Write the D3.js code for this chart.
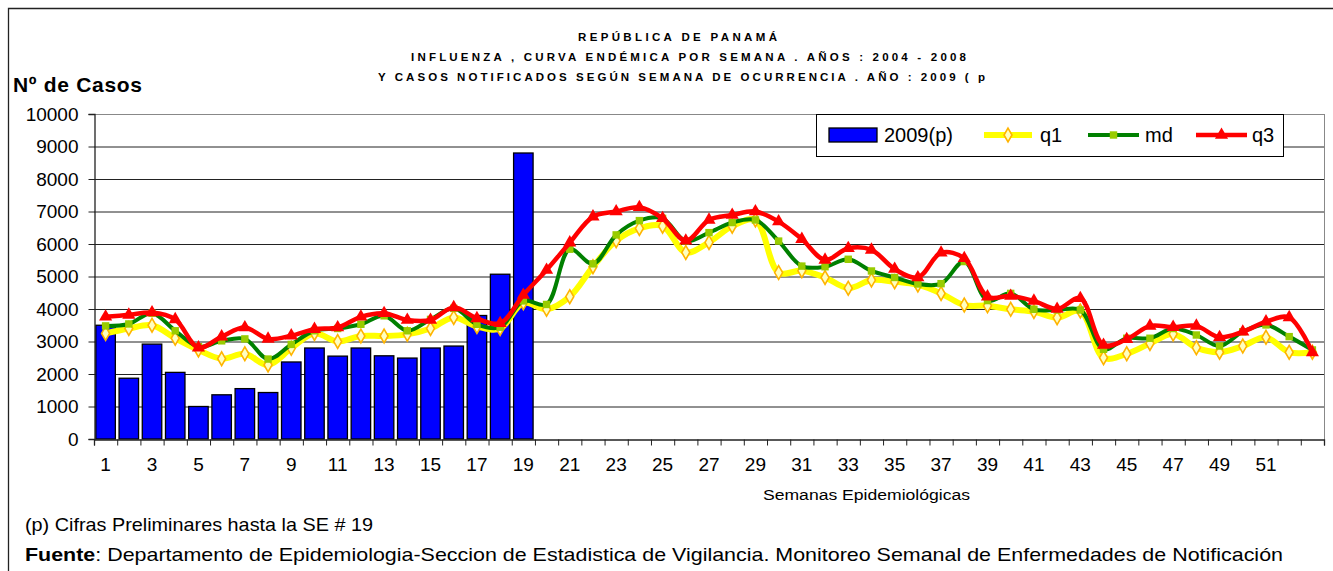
<!DOCTYPE html>
<html>
<head>
<meta charset="utf-8">
<script src="https://cdn.jsdelivr.net/npm/d3@7"></script>
<style>
body { margin:0; background:#fff; }
svg { display:block; font-family:"Liberation Sans", Arial, sans-serif; }
</style>
</head>
<body>
<svg id="chart" width="1333" height="571"></svg>
<script>
var WEEKS = d3.range(1, 54); // 53 semanas
var CASOS_2009 = [3500,1870,2920,2050,1000,1360,1550,1430,2370,2800,2550,2800,2560,2490,2800,2860,3800,5070,8800];
var Q1 = [3250,3400,3500,3100,2740,2470,2620,2280,2790,3250,
          3000,3170,3170,3220,3400,3740,3460,3400,4190,3990,
          4380,5300,6100,6480,6550,5740,6050,6550,6740,5120,
          5180,4970,4640,4890,4840,4740,4480,4120,4100,3990,
          3920,3730,3940,2500,2620,2940,3230,2810,2670,2860,
          3130,2670,2670];
var MD = [3480,3540,3870,3330,2840,3020,3080,2460,2910,3330,
          3400,3530,3790,3330,3680,4020,3530,3440,4250,4140,
          5840,5390,6280,6720,6790,6090,6350,6660,6740,6090,
          5320,5300,5530,5170,4970,4770,4780,5460,4260,4480,
          3990,3970,3970,2760,3100,3100,3400,3200,2860,3300,
          3510,3150,2740];
var Q3 = [3760,3820,3890,3680,2810,3150,3430,3080,3180,3380,
          3430,3760,3870,3660,3660,4050,3710,3560,4430,5200,
          6040,6840,7000,7130,6790,6100,6740,6890,7000,6690,
          6150,5510,5870,5820,5230,4970,5730,5560,4380,4400,
          4250,4000,4330,2890,3070,3480,3440,3480,3130,3300,
          3610,3740,2660];
var Y_TICKS = d3.range(0, 10001, 1000);
var X_LABELS = WEEKS.filter(function(w){ return w % 2 == 1 && w <= 51; });

var TITLE = ["REPÚBLICA DE PANAMÁ",
             "INFLUENZA ,  CURVA ENDÉMICA POR SEMANA .   AÑOS : 2004 - 2008",
             "Y CASOS NOTIFICADOS SEGÚN SEMANA DE OCURRENCIA .   AÑO : 2009 ( p"];

var svg = d3.select("#chart");
var L = 94, R = 1324, T = 114, B = 439;

// frame
svg.append("path").attr("d", "M8.5,571 V8.5 H1333").attr("fill","none").attr("stroke","#222").attr("stroke-width",1.3);

var x = d3.scaleBand().domain(WEEKS).range([L, R]).padding(0);
var xb = d3.scaleLinear().domain([0, 53]).range([L, R]);
var y = d3.scaleLinear().domain([0, 10000]).range([B, T]);
var bw = x.bandwidth() * 0.84;

// grid
svg.append("g").selectAll("line").data(Y_TICKS.filter(function(v){ return v > 0; }))
  .enter().append("line")
  .attr("x1", L).attr("x2", R)
  .attr("y1", function(d){ return y(d) + 0.5; }).attr("y2", function(d){ return y(d) + 0.5; })
  .attr("stroke", function(d){ return d == 10000 ? "#888" : "#222"; }).attr("stroke-width", 1);
svg.append("line").attr("x1", R+0.5).attr("x2", R+0.5).attr("y1", T).attr("y2", B).attr("stroke","#888");

// bars
svg.append("g").selectAll("rect").data(CASOS_2009).enter().append("rect")
  .attr("x", function(d,i){ return x(WEEKS[i]) + (x.bandwidth()-bw)/2; })
  .attr("y", function(d){ return y(d); })
  .attr("width", bw)
  .attr("height", function(d){ return B - y(d); })
  .attr("fill", "#0000FF").attr("stroke", "#000").attr("stroke-width", 1.3);

// y axis
var yAxis = svg.append("g").attr("transform", "translate(" + (L+0.5) + ",0)")
  .call(d3.axisLeft(y).tickValues(Y_TICKS).tickSize(6).tickPadding(10).tickFormat(d3.format("d")));
yAxis.select(".domain").attr("stroke","#222").attr("stroke-width",1.3);
yAxis.selectAll(".tick line").attr("stroke","#222");
yAxis.selectAll("text").attr("font-size", 19).attr("fill","#000").attr("font-family","Liberation Sans, Arial");

// x axis: boundary ticks
var xTickAxis = svg.append("g").attr("transform", "translate(0," + (B+0.5) + ")")
  .call(d3.axisBottom(xb).tickValues(d3.range(0, 54)).tickSize(6).tickFormat(""));
xTickAxis.select(".domain").attr("stroke","#222").attr("stroke-width",1.3);
xTickAxis.selectAll(".tick line").attr("stroke","#222");

// x axis: labels
var xLab = svg.append("g").attr("transform", "translate(0," + (B+15) + ")")
  .call(d3.axisBottom(x).tickValues(X_LABELS).tickSize(0));
xLab.select(".domain").remove();
xLab.selectAll("text").attr("font-size", 19).attr("fill","#000").attr("font-family","Liberation Sans, Arial");

// lines
var line = d3.line()
  .x(function(d,i){ return x(WEEKS[i]) + x.bandwidth()/2; })
  .y(function(d){ return y(d); })
  .curve(d3.curveCatmullRom.alpha(0.5));

var SERIES = [
  {name:"q1", data:Q1, color:"#FFFF00", width:6, sym:d3.symbolDiamond, size:55, fill:"#FFFFC0", stroke:"#FFB400"},
  {name:"md", data:MD, color:"#008000", width:4, sym:d3.symbolSquare, size:55, fill:"#99CC00", stroke:"none"},
  {name:"q3", data:Q3, color:"#FF0000", width:4.5, sym:d3.symbolTriangle, size:75, fill:"#FF0000", stroke:"none"}
];

SERIES.forEach(function(s){
  var g = svg.append("g");
  g.append("path").attr("d", line(s.data)).attr("fill","none")
    .attr("stroke", s.color).attr("stroke-width", s.width).attr("stroke-linejoin","round");
  g.selectAll("path.m").data(s.data).enter().append("path").attr("class","m")
    .attr("d", d3.symbol(s.sym, s.size)())
    .attr("transform", function(d,i){ return "translate(" + (x(WEEKS[i]) + x.bandwidth()/2) + "," + y(d) + ")"; })
    .attr("fill", s.fill).attr("stroke", s.stroke).attr("stroke-width", 1.6);
});

// legend
var lg = svg.append("g");
lg.append("rect").attr("x", 816.5).attr("y", 114.5).attr("width", 467).attr("height", 42)
  .attr("fill","#fff").attr("stroke","#000");
lg.append("rect").attr("x", 829).attr("y", 128).attr("width", 48).attr("height", 14)
  .attr("fill","#0000FF").attr("stroke","#000").attr("stroke-width",1.3);
lg.append("text").attr("x", 884).attr("y", 142).attr("font-size", 20).text("2009(p)");
var legItems = [{s:SERIES[0], x1:984, x2:1032, tx:1040},
                {s:SERIES[1], x1:1088, x2:1139, tx:1145},
                {s:SERIES[2], x1:1196, x2:1247, tx:1252}];
legItems.forEach(function(it){
  lg.append("line").attr("x1", it.x1).attr("x2", it.x2).attr("y1", 135).attr("y2", 135)
    .attr("stroke", it.s.color).attr("stroke-width", it.s.width);
  lg.append("path").attr("d", d3.symbol(it.s.sym, it.s.size)())
    .attr("transform", "translate(" + ((it.x1+it.x2)/2) + ",135)")
    .attr("fill", it.s.fill).attr("stroke", it.s.stroke).attr("stroke-width", 1.6);
  lg.append("text").attr("x", it.tx).attr("y", 142).attr("font-size", 20).text(it.s.name);
});

// titles
var tpos = [{x:578, y:41, w:199}, {x:411, y:61, w:555}, {x:378, y:81, w:607}];
TITLE.forEach(function(t, i){
  svg.append("text").attr("x", tpos[i].x).attr("y", tpos[i].y)
    .attr("font-size", 11.5).attr("font-weight","bold")
    .attr("textLength", tpos[i].w).attr("lengthAdjust","spacing").text(t);
});
svg.append("text").attr("x", 13).attr("y", 92).attr("font-size", 21).attr("font-weight","bold")
  .attr("textLength", 129).attr("lengthAdjust","spacing").text("Nº de Casos");

svg.append("text").attr("x", 763).attr("y", 500).attr("font-size", 14)
  .attr("textLength", 207).attr("lengthAdjust","spacingAndGlyphs").text("Semanas Epidemiológicas");

svg.append("text").attr("x", 25).attr("y", 531).attr("font-size", 19)
  .attr("textLength", 348).attr("lengthAdjust","spacingAndGlyphs").text("(p) Cifras Preliminares hasta la SE # 19");

var f = svg.append("text").attr("x", 25).attr("y", 561).attr("font-size", 19)
  .attr("textLength", 1258).attr("lengthAdjust","spacingAndGlyphs");
f.append("tspan").attr("font-weight","bold").text("Fuente");
f.append("tspan").text(": Departamento de Epidemiologia-Seccion de Estadistica de Vigilancia. Monitoreo Semanal de Enfermedades de Notificación");
</script>
</body>
</html>
